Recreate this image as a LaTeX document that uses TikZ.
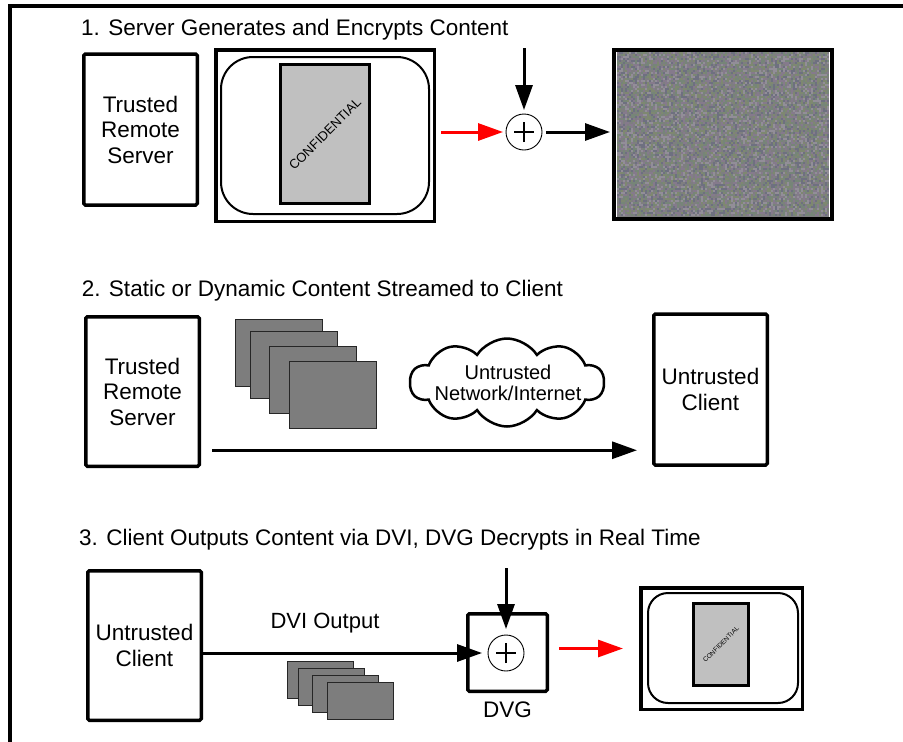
\documentclass[tikz,border=0pt]{standalone}
\usepackage{fontspec}
\setmainfont{Liberation Sans}
\usepackage{tikz}
\usetikzlibrary{arrows.meta, positioning, shapes.symbols, calc}

\definecolor{docGray}{HTML}{C0C0C0}
\definecolor{streamGray}{HTML}{7D7D7D}
\definecolor{keyRed}{HTML}{FF0000}
% scrambled pixels
\definecolor{noiseA}{HTML}{857A8C}
\definecolor{noiseB}{HTML}{768578}
\definecolor{noiseC}{HTML}{7E7E80}
\definecolor{noiseD}{HTML}{6E7080}
\definecolor{noiseE}{HTML}{928E98}
\definecolor{noiseF}{HTML}{7E8870}
\pgfmathdeclarerandomlist{noisecols}{{noiseA}{noiseB}{noiseC}{noiseD}{noiseE}{noiseF}}

\newcommand{\bigtext}{\fontsize{22.5}{25.5}\selectfont}

\tikzset{
  host/.style={
    rectangle, draw, line width=3.5, rounded corners=1.5,
    minimum width=113.5, minimum height=151, inner sep=0,
    align=center, font=\bigtext
  },
  screen/.style={rectangle, draw, line width=3.5, inner sep=0},
  bezel/.style={rectangle, draw, line width=2, rounded corners=#1, inner sep=0},
  bezel/.default=30,
  docpage/.style={rectangle, draw, line width=3, fill=docGray, inner sep=0},
  stackframe/.style={rectangle, draw=black!85, line width=1, fill=streamGray, inner sep=0},
  xorop/.style={
    circle, draw, line width=0.9, minimum size=36, inner sep=0, fill=white,
    path picture={
      \draw[line width=2.4]
        ([xshift=-10pt]path picture bounding box.center) -- ([xshift=10pt]path picture bounding box.center)
        ([yshift=-10pt]path picture bounding box.center) -- ([yshift=10pt]path picture bounding box.center);
    }
  },
  flow/.style={-{Triangle[length=25pt,width=17pt]}, line width=3},
  flow-red/.style={flow, draw=keyRed, fill=keyRed},
  title/.style={anchor=base west, inner sep=0, font=\bigtext},
}

\begin{document}
\begin{tikzpicture}[x=1pt, y=-1pt]
  \useasboundingbox (0,0) rectangle (903,742);
  \draw[line width=4] (9.5,760) |- (920,6);

  % 1. encrypt on the server
  \node[title] (t1) at (81,35) {1. Server Generates and Encrypts Content};
  \node[host] (srv1) at (140.5,129.5) {Trusted\\Remote\\Server};
  \node[screen, minimum width=218.5, minimum height=171.5] (scr1) at (325,135.5) {};
  \node[bezel=32, minimum width=208, minimum height=157] (bez1) at (scr1) {};
  \node[docpage, minimum width=89, minimum height=139] (doc1) at (325,134) {};
  \node[rotate=45, font=\fontsize{13}{14}\selectfont] (stamp1) at (doc1) {CONFIDENTIAL};
  \node[xorop] (xor1) at (524,132) {};
  \coordinate (key1) at (524,48);

  \pgfmathsetseed{42}
  \fill[noiseC] (617,52) rectangle (829,217);
  \foreach \nx in {617,619,...,827}
    \foreach \ny in {52,54,...,215} {
      \pgfmathrandomitem{\nc}{noisecols}
      \fill[\nc] (\nx,\ny) rectangle ++(2.2,2.2);
    }
  \node[screen, line width=4, minimum width=218, minimum height=169] (enc1) at (723,134.5) {};

  \draw[flow-red, shorten <=5pt, shorten >=2.5pt] (scr1.east |- xor1) -- (xor1);
  \draw[flow, shorten >=3.5pt] (key1) -- (xor1.north);
  \draw[flow, shorten <=3.5pt, shorten >=2pt] (xor1) -- (xor1 -| enc1.west);

  % 2. streaming
  \node[title] (t2) at (81.7,296.7) {2. Static or Dynamic Content Streamed to Client};
  \node[host, minimum height=149.5] (srv2) at (142.5,391.5) {Trusted\\Remote\\Server};
  \foreach \n/\cx/\cy in {1/278.5/353, 2/294/364.5, 3/312.5/380, 4/332.5/394.5}
    \node[stackframe, minimum width=87, minimum height=67] (strm\n) at (\cx,\cy) {};
  \node[cloud, cloud puffs=10, cloud puff arc=115, aspect=2.3, draw, line width=2.5,
        minimum width=194, minimum height=88, inner sep=0] (net) at (507,382.5) {};
  \node[align=center, font=\fontsize{20}{21}\selectfont] (nettxt) at (508,382.5) {Untrusted\\Network/Internet};
  \node[host] (cli2) at (710.5,389.5) {Untrusted\\Client};
  \draw[flow, shorten <=11pt, shorten >=15pt]
    ([yshift=17.75pt]srv2.south east) -- ([yshift=17.75pt]srv2.south east -| cli2.west);

  % 3. decrypt at the display
  \node[title] (t3) at (79,545) {3. Client Outputs Content via DVI, DVG Decrypts in Real Time};
  \node[host, minimum height=149.5] (cli3) at (144.5,645.5) {Untrusted\\Client};
  \node[anchor=base, inner sep=0, font=\fontsize{22}{24}\selectfont] (dvilbl) at (325,628) {DVI Output};
  \foreach \n/\cx/\cy in {1/320/679.5, 2/331/686.5, 3/345.5/693.5, 4/360.5/701}
    \node[stackframe, minimum width=66, minimum height=37] (out\n) at (\cx,\cy) {};
  \node[host, minimum width=79.5, minimum height=77.5] (dvg) at (507.5,652.5) {};
  \node[xorop] (xor3) at (506,653) {};
  \coordinate (key3) at (506,568);
  \node[below=5pt of dvg, font=\bigtext] (dvgtag) {DVG};
  \node[screen, minimum width=161.5, minimum height=121.5] (scr3) at (721.5,648.5) {};
  \node[bezel=20, minimum width=150, minimum height=110] (bez3) at (723,648) {};
  \node[docpage, minimum width=55, minimum height=82] (doc3) at (721,644.5) {};
  \node[rotate=45, font=\fontsize{6.5}{7}\selectfont] (stamp3) at (doc3) {CONFIDENTIAL};

  \draw[flow, shorten >=5.5pt] (cli3.east |- xor3) -- (xor3);
  \draw[flow, shorten >=5.5pt] (key3) -- (xor3.north);
  \draw[flow-red, shorten <=10pt, shorten >=16pt] (scr3.west -| dvg.east) -- (scr3.west);
\end{tikzpicture}
\end{document}
